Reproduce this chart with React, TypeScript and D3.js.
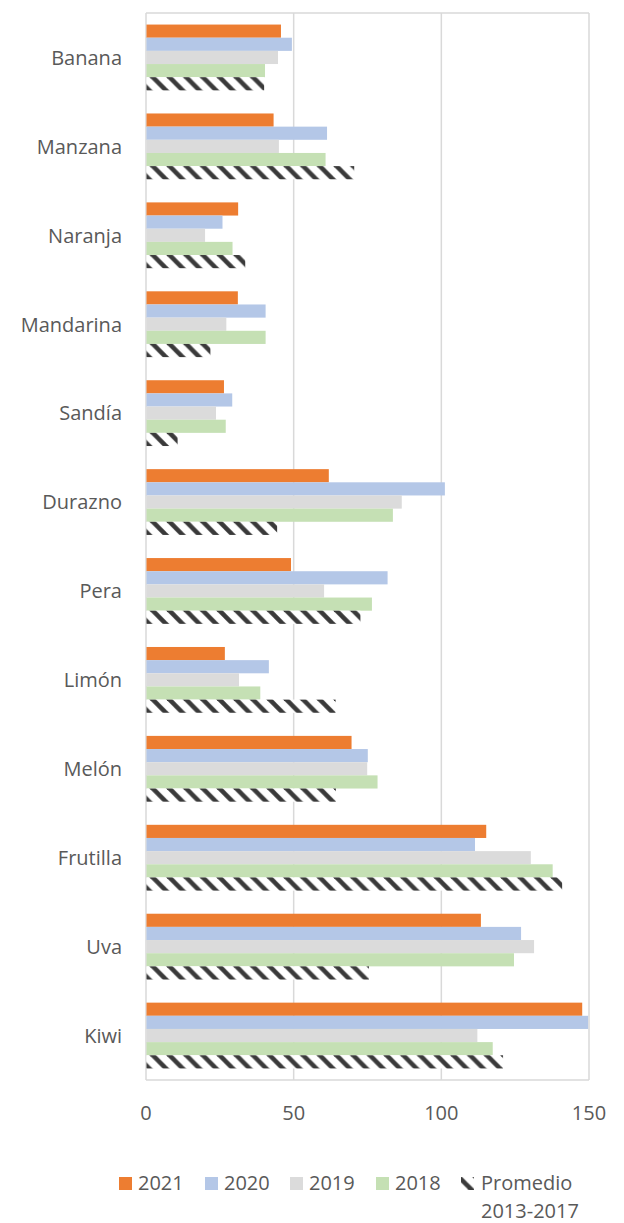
import React from "react";
import * as d3 from "d3";

const categories = ["Banana", "Manzana", "Naranja", "Mandarina", "Sandía", "Durazno", "Pera", "Limón", "Melón", "Frutilla", "Uva", "Kiwi"];
const seriesNames = ["2021", "2020", "2019", "2018", "Promedio 2013-2017"];
const v2021 = [45.7, 43.2, 31.2, 31.1, 26.4, 61.9, 49.1, 26.7, 69.6, 115.2, 113.4, 147.7];
const v2020 = [49.4, 61.3, 25.9, 40.5, 29.2, 101.2, 81.8, 41.6, 75.1, 111.4, 127.0, 149.7];
const v2019 = [44.7, 45.0, 20.0, 27.2, 23.7, 86.6, 60.3, 31.5, 74.9, 130.3, 131.4, 112.2];
const v2018 = [40.3, 60.8, 29.3, 40.5, 27.0, 83.6, 76.5, 38.7, 78.4, 137.7, 124.6, 117.4];
const vProm = [40.0, 70.5, 33.6, 21.8, 10.7, 44.4, 72.6, 64.2, 64.3, 140.9, 75.5, 120.9];
const xTicks = [0, 50, 100, 150];
const seriesValues = [v2021, v2020, v2019, v2018, vProm];
const colors = ["#ED7D31", "#B4C7E7", "#DBDBDB", "#C5E0B4", "url(#hatch)"];

const W = 624, H = 1223;
const plot = { left: 146, right: 589, top: 13, bottom: 1080 };
const font = "'Open Sans', sans-serif";
const textColor = "#595959";
const gridColor = "#D9D9D9";

export default function App() {
  const x = d3.scaleLinear().domain([0, 150]).range([plot.left, plot.right]);
  const y = d3.scaleBand<string>().domain(categories).range([plot.top, plot.bottom]).paddingInner(0.26).paddingOuter(0.13);
  const ys = d3.scaleBand<string>().domain(seriesNames).range([0, y.bandwidth()]);
  const P = 16.7, t = 6.5;
  const hatchPts = `0,0 ${t / 2},0 ${P},${P - t / 2} ${P},${P} ${P - t / 2},${P} 0,${t / 2}`;
  const c1 = `${P - t / 2},0 ${P},0 ${P},${t / 2}`;
  const c2 = `0,${P - t / 2} 0,${P} ${t / 2},${P}`;

  const legendX = [119, 205, 290, 376, 461];
  return (
    <svg width={W} height={H} style={{ position: "absolute", left: 0, top: 0, background: "#fff" }}>
      <defs>
        <pattern id="hatch" patternUnits="userSpaceOnUse" width={P} height={P}>
          <rect width={P} height={P} fill="#fff" />
          <polygon points={hatchPts} fill="#3A3A3A" />
          <polygon points={c1} fill="#3A3A3A" />
          <polygon points={c2} fill="#3A3A3A" />
        </pattern>
      </defs>
      <rect x={0} y={0} width={W} height={H} fill="#fff" />
      {/* gridlines */}
      {xTicks.map((tk) => (
        <line key={tk} x1={x(tk)} x2={x(tk)} y1={plot.top} y2={plot.bottom} stroke={gridColor} strokeWidth={1.5} />
      ))}
      <line x1={plot.left} x2={plot.right} y1={plot.top} y2={plot.top} stroke={gridColor} strokeWidth={1.5} />
      <line x1={plot.left} x2={plot.right} y1={plot.bottom} y2={plot.bottom} stroke={gridColor} strokeWidth={1.5} />
      {/* bars */}
      {categories.map((c, i) => (
        <g key={c} transform={`translate(0,${y(c)})`}>
          {seriesNames.map((s, j) => (
            <rect key={s} x={x(0) + 0.5} y={ys(s)} width={x(seriesValues[j][i]) - x(0) - 0.5} height={ys.bandwidth()} fill={colors[j]} />
          ))}
        </g>
      ))}
      {/* category labels */}
      {categories.map((c) => (
        <text key={c} x={122} y={(y(c) as number) + y.bandwidth() / 2 + 7.3} textAnchor="end" fontFamily={font} fontSize={20} fill={textColor}>{c}</text>
      ))}
      {/* x tick labels */}
      {xTicks.map((tk) => (
        <text key={tk} x={x(tk)} y={1120} textAnchor="middle" fontFamily={font} fontSize={20} fill={textColor}>{tk}</text>
      ))}
      {/* legend */}
      {seriesNames.map((s, j) => (
        <g key={s}>
          <rect x={legendX[j]} y={1177} width={13} height={13} fill={colors[j]} />
          {j < 4 ? (
            <text x={legendX[j] + 19} y={1190} fontFamily={font} fontSize={20} fill={textColor}>{s}</text>
          ) : (
            <text x={legendX[j] + 20} y={1190} fontFamily={font} fontSize={20} fill={textColor}>
              <tspan x={legendX[j] + 20}>Promedio</tspan>
              <tspan x={legendX[j] + 20} dy={28}>2013-2017</tspan>
            </text>
          )}
        </g>
      ))}
    </svg>
  );
}
